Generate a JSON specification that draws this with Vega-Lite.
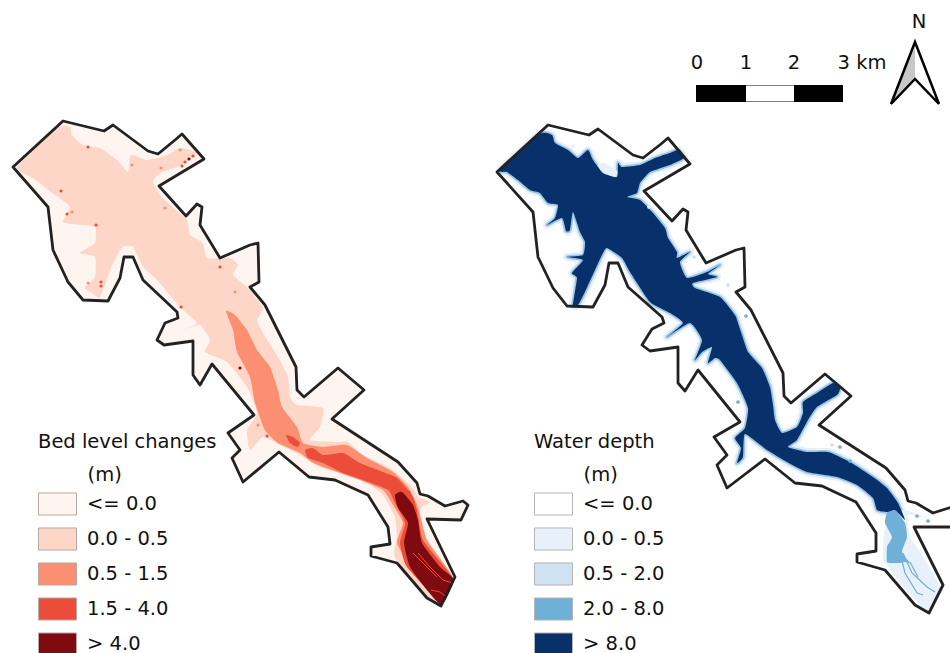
{
"$schema":"https://vega.github.io/schema/vega-lite/v6.json",
"width":950,"height":653,"padding":0,"autosize":{"type":"none"},"background":"white",
"view":{"stroke":null},
"config":{"font":"DejaVu Sans"},
"datasets":{
"bedClasses":[{"p":"o","c":"<= 0.0"},{"p":"b","c":"0.0 - 0.5"},{"p":"m","c":"0.5 - 1.5"},{"p":"h1","c":"1.5 - 4.0"},{"p":"h2","c":"1.5 - 4.0"},{"p":"x","c":"> 4.0"}],
"bed":[
{"p":"o","x":13,"y":167},{"p":"o","x":63,"y":121},{"p":"o","x":104,"y":131},{"p":"o","x":113,"y":125},{"p":"o","x":148,"y":151},{"p":"o","x":158,"y":154},{"p":"o","x":175,"y":140},{"p":"o","x":182,"y":134},{"p":"o","x":204,"y":159},{"p":"o","x":159,"y":186},{"p":"o","x":186,"y":216},{"p":"o","x":197,"y":204},{"p":"o","x":202,"y":207},{"p":"o","x":200,"y":225},{"p":"o","x":220,"y":258},{"p":"o","x":250,"y":245},{"p":"o","x":258,"y":243},{"p":"o","x":259,"y":282},{"p":"o","x":250,"y":287},{"p":"o","x":265,"y":305},{"p":"o","x":296,"y":367},{"p":"o","x":297,"y":390},{"p":"o","x":304,"y":397},{"p":"o","x":338,"y":368},{"p":"o","x":364,"y":390},{"p":"o","x":332,"y":419},{"p":"o","x":398,"y":462},{"p":"o","x":417,"y":483},{"p":"o","x":420,"y":494},{"p":"o","x":428,"y":496},{"p":"o","x":445,"y":506},{"p":"o","x":463,"y":501},{"p":"o","x":468,"y":505},{"p":"o","x":461,"y":520},{"p":"o","x":427,"y":519},{"p":"o","x":455,"y":577},{"p":"o","x":441,"y":606},{"p":"o","x":427,"y":598},{"p":"o","x":397,"y":563},{"p":"o","x":371,"y":556},{"p":"o","x":371,"y":547},{"p":"o","x":390,"y":544},{"p":"o","x":388,"y":527},{"p":"o","x":368,"y":495},{"p":"o","x":335,"y":480},{"p":"o","x":309,"y":477},{"p":"o","x":279,"y":452},{"p":"o","x":243,"y":482},{"p":"o","x":232,"y":458},{"p":"o","x":240,"y":450},{"p":"o","x":228,"y":433},{"p":"o","x":254,"y":415},{"p":"o","x":212,"y":364},{"p":"o","x":200,"y":385},{"p":"o","x":193,"y":375},{"p":"o","x":193,"y":341},{"p":"o","x":164,"y":345},{"p":"o","x":157,"y":340},{"p":"o","x":165,"y":323},{"p":"o","x":178,"y":318},{"p":"o","x":177,"y":312},{"p":"o","x":143,"y":280},{"p":"o","x":133,"y":257},{"p":"o","x":124,"y":257},{"p":"o","x":120,"y":278},{"p":"o","x":108,"y":301},{"p":"o","x":83,"y":300},{"p":"o","x":68,"y":282},{"p":"o","x":53,"y":250},{"p":"o","x":48,"y":207},
{"p":"b","x":17,"y":167},{"p":"b","x":57,"y":128},{"p":"b","x":70,"y":127},{"p":"b","x":72,"y":135},{"p":"b","x":83,"y":145},{"p":"b","x":100,"y":148},{"p":"b","x":117,"y":160},{"p":"b","x":128,"y":172},{"p":"b","x":131,"y":155},{"p":"b","x":147,"y":160},{"p":"b","x":167,"y":155},{"p":"b","x":180,"y":148},{"p":"b","x":197,"y":153},{"p":"b","x":182,"y":165},{"p":"b","x":160,"y":173},{"p":"b","x":153,"y":182},{"p":"b","x":163,"y":198},{"p":"b","x":187,"y":220},{"p":"b","x":190,"y":235},{"p":"b","x":203,"y":243},{"p":"b","x":207,"y":258},{"p":"b","x":230,"y":258},{"p":"b","x":238,"y":265},{"p":"b","x":233,"y":275},{"p":"b","x":247,"y":287},{"p":"b","x":263,"y":308},{"p":"b","x":257,"y":320},{"p":"b","x":263,"y":333},{"p":"b","x":278,"y":357},{"p":"b","x":288,"y":377},{"p":"b","x":290,"y":397},{"p":"b","x":297,"y":405},{"p":"b","x":323,"y":408},{"p":"b","x":320,"y":427},{"p":"b","x":310,"y":440},{"p":"b","x":337,"y":442},{"p":"b","x":348,"y":442},{"p":"b","x":363,"y":455},{"p":"b","x":390,"y":468},{"p":"b","x":412,"y":487},{"p":"b","x":418,"y":497},{"p":"b","x":430,"y":502},{"p":"b","x":420,"y":510},{"p":"b","x":427,"y":540},{"p":"b","x":447,"y":567},{"p":"b","x":453,"y":580},{"p":"b","x":440,"y":605},{"p":"b","x":427,"y":597},{"p":"b","x":395,"y":557},{"p":"b","x":397,"y":537},{"p":"b","x":395,"y":517},{"p":"b","x":383,"y":495},{"p":"b","x":370,"y":485},{"p":"b","x":343,"y":473},{"p":"b","x":320,"y":467},{"p":"b","x":300,"y":455},{"p":"b","x":280,"y":445},{"p":"b","x":263,"y":437},{"p":"b","x":250,"y":450},{"p":"b","x":247,"y":430},{"p":"b","x":257,"y":413},{"p":"b","x":247,"y":387},{"p":"b","x":227,"y":362},{"p":"b","x":205,"y":352},{"p":"b","x":210,"y":340},{"p":"b","x":200,"y":325},{"p":"b","x":183,"y":330},{"p":"b","x":197,"y":323},{"p":"b","x":180,"y":307},{"p":"b","x":157,"y":280},{"p":"b","x":143,"y":267},{"p":"b","x":133,"y":247},{"p":"b","x":123,"y":247},{"p":"b","x":113,"y":263},{"p":"b","x":100,"y":297},{"p":"b","x":92,"y":293},{"p":"b","x":85,"y":288},{"p":"b","x":95,"y":277},{"p":"b","x":95,"y":257},{"p":"b","x":80,"y":253},{"p":"b","x":95,"y":243},{"p":"b","x":95,"y":227},{"p":"b","x":80,"y":225},{"p":"b","x":63,"y":222},{"p":"b","x":70,"y":207},{"p":"b","x":55,"y":195},{"p":"b","x":33,"y":178},
{"p":"m","x":226,"y":311},{"p":"m","x":235,"y":315},{"p":"m","x":247,"y":330},{"p":"m","x":257,"y":350},{"p":"m","x":270,"y":367},{"p":"m","x":278,"y":390},{"p":"m","x":282,"y":407},{"p":"m","x":297,"y":427},{"p":"m","x":303,"y":443},{"p":"m","x":323,"y":447},{"p":"m","x":347,"y":445},{"p":"m","x":367,"y":458},{"p":"m","x":393,"y":472},{"p":"m","x":408,"y":487},{"p":"m","x":418,"y":507},{"p":"m","x":427,"y":540},{"p":"m","x":453,"y":578},{"p":"m","x":443,"y":600},{"p":"m","x":413,"y":570},{"p":"m","x":397,"y":543},{"p":"m","x":403,"y":523},{"p":"m","x":393,"y":505},{"p":"m","x":383,"y":490},{"p":"m","x":360,"y":480},{"p":"m","x":337,"y":472},{"p":"m","x":313,"y":463},{"p":"m","x":300,"y":453},{"p":"m","x":278,"y":443},{"p":"m","x":265,"y":430},{"p":"m","x":255,"y":403},{"p":"m","x":250,"y":377},{"p":"m","x":237,"y":352},{"p":"m","x":233,"y":330},
{"p":"h1","x":286,"y":435},{"p":"h1","x":293,"y":437},{"p":"h1","x":300,"y":443},{"p":"h1","x":297,"y":447},{"p":"h1","x":290,"y":443},
{"p":"h2","x":305,"y":450},{"p":"h2","x":313,"y":448},{"p":"h2","x":323,"y":455},{"p":"h2","x":343,"y":453},{"p":"h2","x":360,"y":463},{"p":"h2","x":383,"y":472},{"p":"h2","x":397,"y":478},{"p":"h2","x":412,"y":495},{"p":"h2","x":417,"y":510},{"p":"h2","x":423,"y":540},{"p":"h2","x":447,"y":570},{"p":"h2","x":453,"y":580},{"p":"h2","x":442,"y":603},{"p":"h2","x":407,"y":567},{"p":"h2","x":400,"y":543},{"p":"h2","x":405,"y":523},{"p":"h2","x":395,"y":503},{"p":"h2","x":388,"y":490},{"p":"h2","x":363,"y":480},{"p":"h2","x":343,"y":473},{"p":"h2","x":323,"y":463},{"p":"h2","x":308,"y":458},
{"p":"x","x":395,"y":495},{"p":"x","x":402,"y":492},{"p":"x","x":413,"y":505},{"p":"x","x":418,"y":520},{"p":"x","x":422,"y":543},{"p":"x","x":440,"y":567},{"p":"x","x":454,"y":580},{"p":"x","x":442,"y":605},{"p":"x","x":427,"y":590},{"p":"x","x":410,"y":567},{"p":"x","x":404,"y":543},{"p":"x","x":408,"y":523},{"p":"x","x":398,"y":508}
],
"bedChannels":[
{"p":"k1","x":418,"y":553},{"p":"k1","x":430,"y":567},{"p":"k1","x":443,"y":580},{"p":"k1","x":452,"y":583},
{"p":"k2","x":413,"y":553},{"p":"k2","x":423,"y":563},{"p":"k2","x":437,"y":577},
{"p":"k3","x":431,"y":590},{"p":"k3","x":440,"y":592},{"p":"k3","x":446,"y":597}
],
"bedSpots":[
{"c":"1.5 - 4.0","x":88,"y":147},{"c":"1.5 - 4.0","x":61,"y":191},{"c":"1.5 - 4.0","x":67,"y":214},{"c":"0.5 - 1.5","x":72,"y":212},{"c":"1.5 - 4.0","x":96,"y":225},{"c":"1.5 - 4.0","x":101,"y":282},{"c":"1.5 - 4.0","x":101,"y":286},{"c":"0.5 - 1.5","x":88,"y":283},{"c":"1.5 - 4.0","x":181,"y":307},{"c":"1.5 - 4.0","x":220,"y":267},{"c":"0.5 - 1.5","x":235,"y":292},{"c":"1.5 - 4.0","x":182,"y":166},{"c":"1.5 - 4.0","x":185,"y":162},{"c":"> 4.0","x":189,"y":159},{"c":"1.5 - 4.0","x":193,"y":156},{"c":"0.5 - 1.5","x":180,"y":150},{"c":"0.5 - 1.5","x":161,"y":168},{"c":"0.5 - 1.5","x":132,"y":165},{"c":"0.5 - 1.5","x":165,"y":208},{"c":"> 4.0","x":240,"y":368},{"c":"1.5 - 4.0","x":267,"y":436},{"c":"0.5 - 1.5","x":258,"y":425},{"c":"0.5 - 1.5","x":258,"y":406},{"c":"1.5 - 4.0","x":409,"y":492}
],
"depthClasses":[{"p":"O","c":"<= 0.0"},{"p":"l1","c":"0.0 - 0.5"},{"p":"l2","c":"0.0 - 0.5"},{"p":"t","c":"2.0 - 8.0"},{"p":"D","c":"> 8.0"}],
"depth":[
{"p":"O","x":497,"y":172},{"p":"O","x":548,"y":125},{"p":"O","x":589,"y":135},{"p":"O","x":598,"y":129},{"p":"O","x":633,"y":155},{"p":"O","x":643,"y":158},{"p":"O","x":661,"y":144},{"p":"O","x":668,"y":138},{"p":"O","x":690,"y":164},{"p":"O","x":644,"y":191},{"p":"O","x":672,"y":221},{"p":"O","x":683,"y":209},{"p":"O","x":688,"y":212},{"p":"O","x":686,"y":230},{"p":"O","x":706,"y":263},{"p":"O","x":736,"y":250},{"p":"O","x":744,"y":248},{"p":"O","x":745,"y":287},{"p":"O","x":736,"y":292},{"p":"O","x":751,"y":310},{"p":"O","x":783,"y":373},{"p":"O","x":784,"y":396},{"p":"O","x":791,"y":403},{"p":"O","x":825,"y":374},{"p":"O","x":851,"y":396},{"p":"O","x":819,"y":425},{"p":"O","x":886,"y":468},{"p":"O","x":905,"y":490},{"p":"O","x":908,"y":501},{"p":"O","x":916,"y":503},{"p":"O","x":933,"y":513},{"p":"O","x":952,"y":507},{"p":"O","x":952,"y":527},{"p":"O","x":914,"y":527},{"p":"O","x":943,"y":585},{"p":"O","x":929,"y":613},{"p":"O","x":915,"y":605},{"p":"O","x":885,"y":570},{"p":"O","x":857,"y":562},{"p":"O","x":857,"y":554},{"p":"O","x":876,"y":551},{"p":"O","x":876,"y":533},{"p":"O","x":856,"y":502},{"p":"O","x":822,"y":486},{"p":"O","x":795,"y":483},{"p":"O","x":765,"y":459},{"p":"O","x":727,"y":488},{"p":"O","x":717,"y":465},{"p":"O","x":727,"y":455},{"p":"O","x":714,"y":437},{"p":"O","x":740,"y":422},{"p":"O","x":698,"y":370},{"p":"O","x":685,"y":391},{"p":"O","x":678,"y":383},{"p":"O","x":678,"y":347},{"p":"O","x":650,"y":351},{"p":"O","x":642,"y":345},{"p":"O","x":652,"y":329},{"p":"O","x":664,"y":323},{"p":"O","x":662,"y":317},{"p":"O","x":628,"y":287},{"p":"O","x":618,"y":263},{"p":"O","x":609,"y":263},{"p":"O","x":605,"y":285},{"p":"O","x":593,"y":307},{"p":"O","x":567,"y":306},{"p":"O","x":553,"y":288},{"p":"O","x":538,"y":257},{"p":"O","x":533,"y":212},
{"p":"l1","x":598,"y":165},{"p":"l1","x":605,"y":163},{"p":"l1","x":618,"y":172},{"p":"l1","x":613,"y":180},{"p":"l1","x":603,"y":175},
{"p":"l2","x":883,"y":560},{"p":"l2","x":887,"y":565},{"p":"l2","x":903,"y":587},{"p":"l2","x":927,"y":610},{"p":"l2","x":940,"y":587},{"p":"l2","x":917,"y":547},{"p":"l2","x":910,"y":537},{"p":"l2","x":908,"y":515},{"p":"l2","x":927,"y":518},{"p":"l2","x":903,"y":510},{"p":"l2","x":885,"y":530},
{"p":"t","x":887,"y":513},{"p":"t","x":895,"y":510},{"p":"t","x":905,"y":523},{"p":"t","x":907,"y":537},{"p":"t","x":902,"y":552},{"p":"t","x":910,"y":563},{"p":"t","x":905,"y":562},{"p":"t","x":900,"y":563},{"p":"t","x":893,"y":563},{"p":"t","x":887,"y":562},{"p":"t","x":887,"y":547},{"p":"t","x":892,"y":537},{"p":"t","x":885,"y":523},
{"p":"D","x":500,"y":170},{"p":"D","x":540,"y":134},{"p":"D","x":552,"y":135},{"p":"D","x":555,"y":143},{"p":"D","x":568,"y":150},{"p":"D","x":578,"y":158},{"p":"D","x":588,"y":150},{"p":"D","x":593,"y":160},{"p":"D","x":603,"y":173},{"p":"D","x":617,"y":177},{"p":"D","x":618,"y":163},{"p":"D","x":622,"y":167},{"p":"D","x":640,"y":165},{"p":"D","x":655,"y":158},{"p":"D","x":670,"y":153},{"p":"D","x":678,"y":150},{"p":"D","x":684,"y":158},{"p":"D","x":670,"y":165},{"p":"D","x":650,"y":172},{"p":"D","x":640,"y":183},{"p":"D","x":637,"y":193},{"p":"D","x":627,"y":197},{"p":"D","x":640,"y":200},{"p":"D","x":653,"y":213},{"p":"D","x":665,"y":228},{"p":"D","x":668,"y":238},{"p":"D","x":677,"y":252},{"p":"D","x":677,"y":258},{"p":"D","x":690,"y":252},{"p":"D","x":680,"y":262},{"p":"D","x":687,"y":278},{"p":"D","x":707,"y":272},{"p":"D","x":720,"y":265},{"p":"D","x":708,"y":274},{"p":"D","x":717,"y":277},{"p":"D","x":693,"y":283},{"p":"D","x":695,"y":288},{"p":"D","x":720,"y":297},{"p":"D","x":735,"y":315},{"p":"D","x":738,"y":323},{"p":"D","x":742,"y":335},{"p":"D","x":748,"y":352},{"p":"D","x":762,"y":368},{"p":"D","x":770,"y":387},{"p":"D","x":773,"y":405},{"p":"D","x":775,"y":420},{"p":"D","x":782,"y":433},{"p":"D","x":797,"y":427},{"p":"D","x":803,"y":413},{"p":"D","x":803,"y":402},{"p":"D","x":817,"y":393},{"p":"D","x":833,"y":383},{"p":"D","x":840,"y":388},{"p":"D","x":837,"y":395},{"p":"D","x":817,"y":407},{"p":"D","x":808,"y":420},{"p":"D","x":797,"y":440},{"p":"D","x":788,"y":447},{"p":"D","x":807,"y":452},{"p":"D","x":828,"y":452},{"p":"D","x":850,"y":462},{"p":"D","x":873,"y":477},{"p":"D","x":887,"y":488},{"p":"D","x":898,"y":503},{"p":"D","x":905,"y":520},{"p":"D","x":895,"y":510},{"p":"D","x":887,"y":512},{"p":"D","x":877,"y":510},{"p":"D","x":873,"y":498},{"p":"D","x":857,"y":485},{"p":"D","x":837,"y":477},{"p":"D","x":807,"y":472},{"p":"D","x":787,"y":462},{"p":"D","x":767,"y":450},{"p":"D","x":745,"y":434},{"p":"D","x":743,"y":457},{"p":"D","x":737,"y":463},{"p":"D","x":741,"y":448},{"p":"D","x":735,"y":438},{"p":"D","x":745,"y":428},{"p":"D","x":748,"y":408},{"p":"D","x":737,"y":383},{"p":"D","x":720,"y":360},{"p":"D","x":715,"y":358},{"p":"D","x":708,"y":363},{"p":"D","x":712,"y":347},{"p":"D","x":702,"y":352},{"p":"D","x":695,"y":360},{"p":"D","x":702,"y":340},{"p":"D","x":690,"y":323},{"p":"D","x":667,"y":337},{"p":"D","x":683,"y":323},{"p":"D","x":670,"y":313},{"p":"D","x":650,"y":302},{"p":"D","x":630,"y":272},{"p":"D","x":622,"y":258},{"p":"D","x":607,"y":248},{"p":"D","x":602,"y":255},{"p":"D","x":595,"y":270},{"p":"D","x":585,"y":292},{"p":"D","x":578,"y":305},{"p":"D","x":573,"y":305},{"p":"D","x":577,"y":278},{"p":"D","x":572,"y":273},{"p":"D","x":583,"y":260},{"p":"D","x":567,"y":257},{"p":"D","x":583,"y":255},{"p":"D","x":585,"y":242},{"p":"D","x":580,"y":232},{"p":"D","x":573,"y":212},{"p":"D","x":570,"y":230},{"p":"D","x":566,"y":231},{"p":"D","x":562,"y":218},{"p":"D","x":547,"y":225},{"p":"D","x":555,"y":218},{"p":"D","x":558,"y":205},{"p":"D","x":548,"y":203},{"p":"D","x":540,"y":193},{"p":"D","x":530,"y":190},{"p":"D","x":518,"y":180},{"p":"D","x":507,"y":172}
],
"depthChannels":[
{"p":"k1","x":900,"y":553},{"p":"k1","x":905,"y":573},{"p":"k1","x":917,"y":593},{"p":"k1","x":923,"y":595},
{"p":"k2","x":903,"y":553},{"p":"k2","x":912,"y":573},{"p":"k2","x":927,"y":587},{"p":"k2","x":935,"y":592},
{"p":"k3","x":910,"y":562},{"p":"k3","x":918,"y":577}
],
"depthSpots":[
{"c":"0.0 - 0.5","x":573,"y":146},{"c":"0.0 - 0.5","x":649,"y":207},{"c":"2.0 - 8.0","x":746,"y":316},{"c":"2.0 - 8.0","x":840,"y":447},{"c":"2.0 - 8.0","x":738,"y":402},{"c":"0.5 - 2.0","x":832,"y":445},{"c":"2.0 - 8.0","x":928,"y":521},{"c":"2.0 - 8.0","x":917,"y":516},{"c":"2.0 - 8.0","x":850,"y":461},{"c":"0.5 - 2.0","x":694,"y":257},{"c":"0.5 - 2.0","x":728,"y":285}
],
"bar":[{"from":696,"to":843,"top":85,"bottom":102}],
"barMid":[{"from":746,"to":794,"top":85.5,"bottom":101.5}],
"barText":[{"t":"0","x":697,"y":69},{"t":"1","x":746,"y":69},{"t":"2","x":794,"y":69},{"t":"3 km","x":862,"y":69},{"t":"N","x":919,"y":28}],
"arrow":[{"x":915,"y":42},{"x":939,"y":104},{"x":915,"y":79},{"x":891,"y":104}],
"arrowHalf":[{"x":915,"y":42},{"x":915,"y":79},{"x":891,"y":104}]
},
"data":{"name":"bed"},
"encoding":{
"x":{"field":"x","type":"quantitative","scale":{"domain":[0,950],"nice":false,"zero":false},"axis":null},
"y":{"field":"y","type":"quantitative","scale":{"domain":[653,0],"nice":false,"zero":false},"axis":null}
},
"layer":[
{"data":{"name":"bed"},"transform":[{"filter":"datum.p==='o'"}],
"mark":{"type":"line","interpolate":"linear-closed","strokeWidth":0},
"encoding":{"order":{"value":null},
"fill":{"datum":"<= 0.0","scale":{"domain":["<= 0.0","0.0 - 0.5","0.5 - 1.5","1.5 - 4.0","> 4.0"],"range":["#fff5f0","#fdd6c8","#fc8f71","#ec4d3a","#7f0a10"]},
"legend":{"orient":"none","legendX":38,"legendY":433,"title":["Bed level changes","\u200c\u00a0\u00a0\u00a0\u00a0\u00a0\u00a0\u00a0\u00a0(m)"],"titleFontSize":19.5,"titleFontWeight":"normal","titleLineHeight":33,"titleColor":"#111","titlePadding":-1,"titleLimit":400,"labelFontSize":19.5,"labelColor":"#111","symbolType":"M-1,-0.58H1V0.58H-1Z","symbolSize":1444,"symbolStrokeColor":"#b5aaa5","symbolStrokeWidth":1,"symbolOpacity":1,"rowPadding":2,"labelOffset":10,"padding":0,"labelLimit":200}}}},
{"data":{"name":"bed"},
"transform":[{"filter":"datum.p!=='o'"},{"lookup":"p","from":{"data":{"name":"bedClasses"},"key":"p","fields":["c"]}}],
"mark":{"type":"line","interpolate":"cardinal-closed","tension":0.5,"strokeWidth":0},
"encoding":{"detail":{"field":"p"},"order":{"value":null},
"fill":{"field":"c","type":"nominal","scale":{"domain":["<= 0.0","0.0 - 0.5","0.5 - 1.5","1.5 - 4.0","> 4.0"],"range":["#fff5f0","#fdd6c8","#fc8f71","#ec4d3a","#7f0a10"]},"legend":null}}},
{"data":{"name":"bedSpots"},"mark":{"type":"circle","size":10,"opacity":1},
"encoding":{"fill":{"field":"c","type":"nominal","scale":{"domain":["<= 0.0","0.0 - 0.5","0.5 - 1.5","1.5 - 4.0","> 4.0"],"range":["#fff5f0","#fdd6c8","#fc8f71","#ec4d3a","#7f0a10"]},"legend":null}}},
{"data":{"name":"bedChannels"},"mark":{"type":"line","stroke":"#ec4d3a","strokeWidth":1},
"encoding":{"detail":{"field":"p"},"order":{"value":null}}},
{"data":{"name":"bed"},"transform":[{"filter":"datum.p==='o'"}],
"mark":{"type":"line","interpolate":"linear-closed","stroke":"#222222","strokeWidth":2.8,"strokeJoin":"round","fill":null},
"encoding":{"order":{"value":null}}},
{"data":{"name":"depth"},"transform":[{"filter":"datum.p==='O'"}],
"mark":{"type":"line","interpolate":"linear-closed","strokeWidth":0},
"encoding":{"order":{"value":null},"fill":{"datum":"<= 0.0","scale":{"domain":["<= 0.0","0.0 - 0.5","0.5 - 2.0","2.0 - 8.0","> 8.0"],"range":["#ffffff","#e8f1fa","#d0e1f2","#6fb0d8","#08306b"]},
"legend":{"orient":"none","legendX":534,"legendY":433,"title":["Water depth","\u200c\u00a0\u00a0\u00a0\u00a0\u00a0\u00a0\u00a0\u00a0(m)"],"titleFontSize":19.5,"titleFontWeight":"normal","titleLineHeight":33,"titleColor":"#111","titlePadding":-1,"titleLimit":400,"labelFontSize":19.5,"labelColor":"#111","symbolType":"M-1,-0.58H1V0.58H-1Z","symbolSize":1444,"symbolStrokeColor":"#b5b5b5","symbolStrokeWidth":1,"symbolOpacity":1,"rowPadding":2,"labelOffset":10,"padding":0,"labelLimit":200}}}},
{"data":{"name":"depth"},"transform":[{"filter":"datum.p==='D'"}],
"mark":{"type":"line","interpolate":"cardinal-closed","tension":0.5,"stroke":"#e8f1fa","strokeWidth":8,"strokeJoin":"round"},
"encoding":{"order":{"value":null}}},
{"data":{"name":"depth"},"transform":[{"filter":"datum.p==='D'"}],
"mark":{"type":"line","interpolate":"cardinal-closed","tension":0.5,"stroke":"#9cc7e4","strokeWidth":3.5,"strokeJoin":"round"},
"encoding":{"order":{"value":null}}},
{"data":{"name":"depth"},"transform":[{"filter":"datum.p!=='O'"},{"lookup":"p","from":{"data":{"name":"depthClasses"},"key":"p","fields":["c"]}}],
"mark":{"type":"line","interpolate":"cardinal-closed","tension":0.5,"strokeWidth":0},
"encoding":{"detail":{"field":"p"},"order":{"value":null},
"fill":{"field":"c","type":"nominal","scale":{"domain":["<= 0.0","0.0 - 0.5","0.5 - 2.0","2.0 - 8.0","> 8.0"],"range":["#ffffff","#e8f1fa","#d0e1f2","#6fb0d8","#08306b"]},"legend":null}}},
{"data":{"name":"depthSpots"},"mark":{"type":"circle","size":14,"opacity":1},
"encoding":{"fill":{"field":"c","type":"nominal","scale":{"domain":["<= 0.0","0.0 - 0.5","0.5 - 2.0","2.0 - 8.0","> 8.0"],"range":["#ffffff","#e8f1fa","#d0e1f2","#6fb0d8","#08306b"]},"legend":null}}},
{"data":{"name":"depthChannels"},"mark":{"type":"line","stroke":"#6fb0d8","strokeWidth":1.2},
"encoding":{"detail":{"field":"p"},"order":{"value":null}}},
{"data":{"name":"depth"},"transform":[{"filter":"datum.p==='O'"}],
"mark":{"type":"line","interpolate":"linear-closed","stroke":"#222222","strokeWidth":2.8,"strokeJoin":"round"},
"encoding":{"order":{"value":null}}},
{"data":{"name":"bar"},"mark":{"type":"rect","fill":"#000000"},
"encoding":{"x":{"field":"from","type":"quantitative","scale":{"domain":[0,950],"nice":false,"zero":false},"axis":null},"x2":{"field":"to"},"y":{"field":"top","type":"quantitative","scale":{"domain":[653,0],"nice":false,"zero":false},"axis":null},"y2":{"field":"bottom"}}},
{"data":{"name":"barMid"},"mark":{"type":"rect","fill":"#ffffff"},
"encoding":{"x":{"field":"from","type":"quantitative","scale":{"domain":[0,950],"nice":false,"zero":false},"axis":null},"x2":{"field":"to"},"y":{"field":"top","type":"quantitative","scale":{"domain":[653,0],"nice":false,"zero":false},"axis":null},"y2":{"field":"bottom"}}},
{"data":{"name":"barText"},"mark":{"type":"text","fontSize":19.5,"color":"#111","align":"center","baseline":"alphabetic"},
"encoding":{"text":{"field":"t"}}},
{"data":{"name":"arrowHalf"},"mark":{"type":"line","interpolate":"linear-closed","fill":"#c8c8c8","strokeWidth":0},
"encoding":{"order":{"value":null}}},
{"data":{"name":"arrow"},"mark":{"type":"line","interpolate":"linear-closed","stroke":"#000000","strokeWidth":2.5,"strokeJoin":"miter"},
"encoding":{"order":{"value":null}}}
],
"resolve":{"scale":{"fill":"independent"}}
}
